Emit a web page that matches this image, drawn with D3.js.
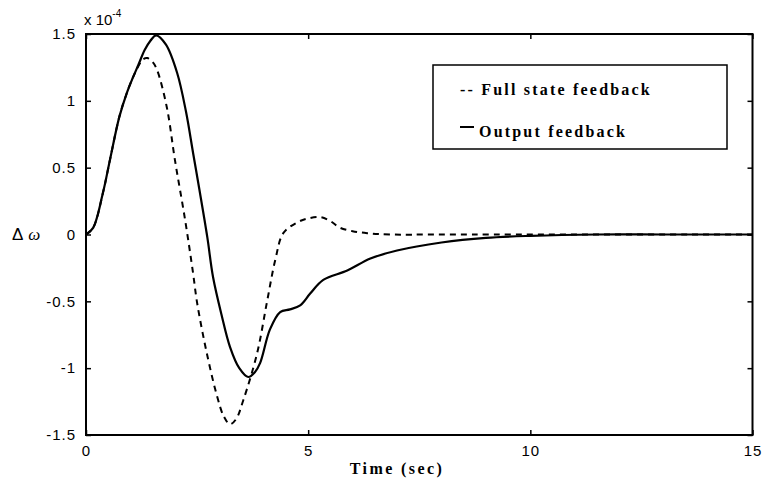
<!DOCTYPE html>
<html><head><meta charset="utf-8">
<script src="https://cdn.jsdelivr.net/npm/d3@7"></script>
<style>body{margin:0;background:#fff}</style>
</head><body>
<svg id="c" width="763" height="494"></svg>
<script>
const xTicks = [0, 5, 10, 15];
const yTicks = [-1.5, -1, -0.5, 0, 0.5, 1, 1.5];
const yTickLabels = ["-1.5", "-1", "-0.5", "0", "0.5", "1", "1.5"];
const legendLabels = ["-- Full state feedback", "Output feedback"];

// Output feedback (solid), units of 1e-4
const outT = [0,0.16,0.38,0.54,0.75,0.92,1.05,1.18,1.32,1.45,1.58,1.8,2.05,2.25,2.41,2.55,2.73,2.86,3.05,3.24,3.45,3.65,3.8,3.92,4.14,4.37,4.59,4.82,5.05,5.34,5.88,6.4,7.0,8.0,9.0,10,11.5,13,15];
const outV = [0,0.05,0.31,0.56,0.88,1.06,1.17,1.27,1.38,1.45,1.49,1.42,1.21,0.92,0.61,0.34,-0.02,-0.32,-0.60,-0.84,-1.00,-1.066,-1.03,-0.96,-0.71,-0.58,-0.56,-0.53,-0.44,-0.34,-0.27,-0.18,-0.12,-0.06,-0.025,-0.01,0,0,0];
// Full state feedback (dashed)
const fullT = [0,0.16,0.38,0.54,0.75,0.92,1.05,1.18,1.28,1.38,1.5,1.6,1.82,2.0,2.23,2.41,2.5,2.72,2.95,3.1,3.24,3.38,3.54,3.85,4.07,4.26,4.44,4.75,5.0,5.27,5.5,5.72,6.0,6.33,6.85,8,15];
const fullV = [0,0.05,0.31,0.56,0.88,1.06,1.17,1.26,1.31,1.32,1.29,1.23,0.95,0.56,0.11,-0.29,-0.51,-0.89,-1.21,-1.36,-1.42,-1.38,-1.24,-0.89,-0.51,-0.19,0.01,0.09,0.12,0.13,0.10,0.05,0.025,0.01,0,0,0];

const svg = d3.select("#c");
const L = 86, R = 752.5, T = 34, B = 435;
const x = d3.scaleLinear().domain([0, 15]).range([L, R]);
const y = d3.scaleLinear().domain([-1.5, 1.5]).range([B, T]);

const line = d3.line().x(d => x(d[0])).y(d => y(d[1])).curve(d3.curveCatmullRom.alpha(0.5));
const outData = outT.map((t, i) => [t, outV[i]]);
const fullData = fullT.map((t, i) => [t, fullV[i]]);

svg.append("path").attr("d", line(fullData)).attr("fill", "none").attr("stroke", "#000")
  .attr("stroke-width", 2).attr("stroke-dasharray", "6,5");
svg.append("path").attr("d", line(outData)).attr("fill", "none").attr("stroke", "#000")
  .attr("stroke-width", 2.2);

// Axes with inward ticks on all sides
const tickFont = "Liberation Sans, Arial, sans-serif";
const gB = svg.append("g").attr("transform", `translate(0,${B})`)
  .call(d3.axisBottom(x).tickValues(xTicks).tickSize(-5).tickPadding(8).tickFormat(d3.format("d")));
const gT = svg.append("g").attr("transform", `translate(0,${T})`)
  .call(d3.axisTop(x).tickValues(xTicks).tickSize(-5).tickFormat(""));
const gL = svg.append("g").attr("transform", `translate(${L},0)`)
  .call(d3.axisLeft(y).tickValues(yTicks).tickSize(-5).tickPadding(10).tickFormat((d, i) => yTickLabels[i]));
const gR = svg.append("g").attr("transform", `translate(${R},0)`)
  .call(d3.axisRight(y).tickValues(yTicks).tickSize(-5).tickFormat(""));
[gB, gT, gL, gR].forEach(g => {
  g.select(".domain").remove();
  g.selectAll(".tick line").attr("stroke", "#000").attr("stroke-width", 1.5);
  g.selectAll("text").attr("font-family", tickFont).attr("font-size", 15).attr("fill", "#000").attr("letter-spacing", "1px");
});
gB.selectAll("text").attr("dy", "0.85em");

svg.append("rect").attr("x", L).attr("y", T).attr("width", R - L).attr("height", B - T)
  .attr("fill", "none").attr("stroke", "#000").attr("stroke-width", 2);

// exponent
const ex = svg.append("text").attr("x", 84).attr("y", 25).attr("font-family", tickFont).attr("font-size", 15).attr("fill", "#000");
ex.append("tspan").text("x 10");
ex.append("tspan").attr("font-size", 10).attr("dy", -8).text("-4");

// axis labels
const lf = "Liberation Serif, Times New Roman, serif";
svg.append("text").attr("x", 397).attr("y", 474).attr("text-anchor", "middle")
  .attr("font-family", lf).attr("font-weight", "bold")
  .attr("font-size", 16).attr("letter-spacing", "2.4px").text("Time (sec)");
const yl = svg.append("text").attr("x", 12).attr("y", 240).attr("font-size", 17).attr("fill", "#000");
yl.append("tspan").attr("font-family", tickFont).text("Δ");
yl.append("tspan").attr("font-family", lf).attr("font-style", "italic").attr("dx", 5).text("ω");

// legend
svg.append("rect").attr("x", 433).attr("y", 65).attr("width", 294).attr("height", 84)
  .attr("fill", "#fff").attr("stroke", "#000").attr("stroke-width", 1.5);
svg.append("text").attr("x", 460).attr("y", 95).attr("font-family", lf).attr("font-weight", "bold")
  .attr("font-size", 16).attr("letter-spacing", "2.2px").text(legendLabels[0]);
svg.append("line").attr("x1", 460).attr("x2", 474).attr("y1", 127).attr("y2", 127).attr("stroke", "#000").attr("stroke-width", 2);
svg.append("text").attr("x", 479).attr("y", 137).attr("font-family", lf).attr("font-weight", "bold")
  .attr("font-size", 16).attr("letter-spacing", "2.2px").text(legendLabels[1]);
</script>
</body></html>
